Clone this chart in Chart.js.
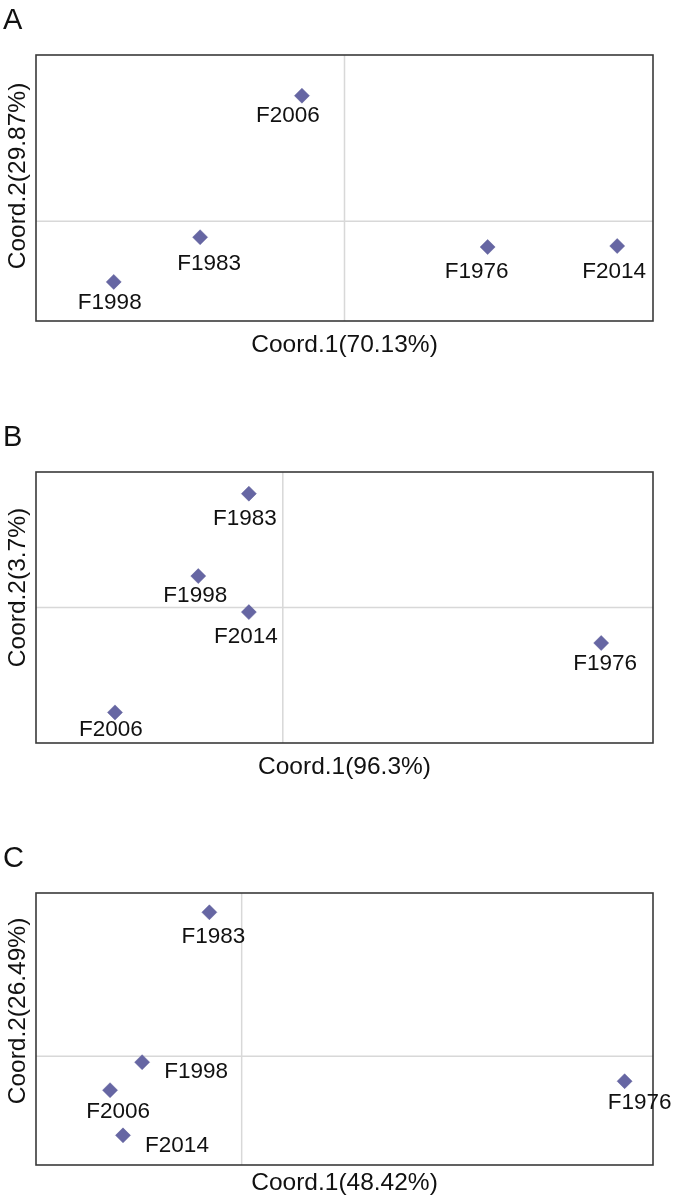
<!DOCTYPE html>
<html>
<head>
<meta charset="utf-8">
<script src="https://cdn.jsdelivr.net/npm/chart.js@4"></script>
<style>
  body { margin: 0; background: #fff; }
  #wrap { position: relative; width: 675px; height: 1199px; }
  canvas { position: absolute; left: 0; }
</style>
</head>
<body>
<div id="wrap">
  <canvas id="panelA" width="675" height="370" style="top:0px"></canvas>
  <canvas id="panelB" width="675" height="370" style="top:420px"></canvas>
  <canvas id="panelC" width="675" height="359" style="top:840px"></canvas>
</div>
<script>
// Muestras (mismo orden en los tres paneles)
const sampleNames = ["F1976", "F1983", "F1998", "F2006", "F2014"];

// Panel A - PCoA
const coordA1 = [0.464, -0.468, -0.748, -0.138, 0.884];
const coordA2 = [-0.155, -0.096, -0.365, 0.755, -0.149];

// Panel B - PCoA
const coordB1 = [2.58, -0.275, -0.685, -1.36, -0.275];
const coordB2 = [-0.262, 0.84, 0.232, -0.774, -0.034];

// Panel C - PCoA
const coordC1 = [1.862, -0.157, -0.484, -0.64, -0.577];
const coordC2 = [-0.092, 0.529, -0.022, -0.125, -0.291];

// Títulos de ejes
const axisTitlesA = ["Coord.1(70.13%)", "Coord.2(29.87%)"];
const axisTitlesB = ["Coord.1(96.3%)", "Coord.2(3.7%)"];
const axisTitlesC = ["Coord.1(48.42%)", "Coord.2(26.49%)"];

const FONT = "'Liberation Sans', Arial, sans-serif";

// dibuja marco, líneas del cero, etiquetas y títulos
const pcoaDecor = {
  id: "pcoaDecor",
  beforeDatasetsDraw(chart, args, opts) {
    const { ctx, chartArea: a, scales } = chart;
    const x0 = scales.x.getPixelForValue(0);
    const y0 = scales.y.getPixelForValue(0);
    ctx.save();
    ctx.strokeStyle = "#d8d8d8";
    ctx.lineWidth = 1.5;
    ctx.beginPath();
    ctx.moveTo(x0, a.top);
    ctx.lineTo(x0, a.bottom);
    ctx.moveTo(a.left, y0);
    ctx.lineTo(a.right, y0);
    ctx.stroke();
    ctx.restore();
  },
  afterDatasetsDraw(chart, args, opts) {
    const { ctx, chartArea: a } = chart;
    ctx.save();
    // marco
    ctx.strokeStyle = "#3a3a3a";
    ctx.lineWidth = 1.6;
    ctx.strokeRect(a.left, a.top, a.right - a.left, a.bottom - a.top);

    // etiquetas de puntos
    const meta = chart.getDatasetMeta(0);
    ctx.fillStyle = "#111";
    ctx.font = "22.5px " + FONT;
    ctx.textAlign = "center";
    ctx.textBaseline = "middle";
    meta.data.forEach((pt, i) => {
      const off = opts.labelOffsets[i];
      ctx.fillText(sampleNames[i], pt.x + off[0], pt.y + off[1]);
    });

    // título eje x
    ctx.font = "24.5px " + FONT;
    ctx.fillText(opts.titles[0], (a.left + a.right) / 2, a.bottom + opts.xTitleGap);

    // título eje y
    ctx.save();
    ctx.translate(18, (a.top + a.bottom) / 2 + opts.yTitleShift);
    ctx.rotate(-Math.PI / 2);
    ctx.fillText(opts.titles[1], 0, 0);
    ctx.restore();

    // letra del panel
    ctx.font = "29px " + FONT;
    ctx.textAlign = "left";
    ctx.textBaseline = "alphabetic";
    ctx.fillText(opts.letter, 3, a.top - 26);
    ctx.restore();
  },
};

function makePanel(id, xs, ys, xRange, yRange, padding, decor) {
  const points = xs.map((x, i) => ({ x: x, y: ys[i] }));
  return new Chart(document.getElementById(id), {
    type: "scatter",
    data: {
      datasets: [
        {
          data: points,
          pointStyle: "rectRot",
          pointRadius: 7.5,
          backgroundColor: "#6666a3",
          borderColor: "#5c5c99",
          borderWidth: 0.5,
        },
      ],
    },
    options: {
      responsive: false,
      animation: false,
      layout: { padding: padding },
      scales: {
        x: { display: false, min: xRange[0], max: xRange[1] },
        y: { display: false, min: yRange[0], max: yRange[1] },
      },
      plugins: {
        legend: { display: false },
        tooltip: { enabled: false },
        pcoaDecor: decor,
      },
    },
    plugins: [pcoaDecor],
  });
}

makePanel("panelA", coordA1, coordA2, [-1, 1], [-0.6, 1.0],
  { left: 36, right: 22, top: 55, bottom: 49 },
  {
    letter: "A", titles: axisTitlesA, xTitleGap: 24, yTitleShift: -12,
    labelOffsets: [[-11, 25], [9, 27], [-4, 21], [-14, 20], [-3, 26]],
  });

makePanel("panelB", coordB1, coordB2, [-2, 3], [-1, 1],
  { left: 36, right: 22, top: 52, bottom: 47 },
  {
    letter: "B", titles: axisTitlesB, xTitleGap: 24, yTitleShift: -20,
    labelOffsets: [[4, 21], [-4, 25], [-3, 20], [-4, 17], [-3, 25]],
  });

makePanel("panelC", coordC1, coordC2, [-1, 2], [-0.4, 0.6],
  { left: 36, right: 22, top: 53, bottom: 34 },
  {
    letter: "C", titles: axisTitlesC, xTitleGap: 18, yTitleShift: -18,
    labelOffsets: [[15, 22], [4, 24], [54, 10], [8, 22], [54, 10]],
  });
</script>
</body>
</html>
